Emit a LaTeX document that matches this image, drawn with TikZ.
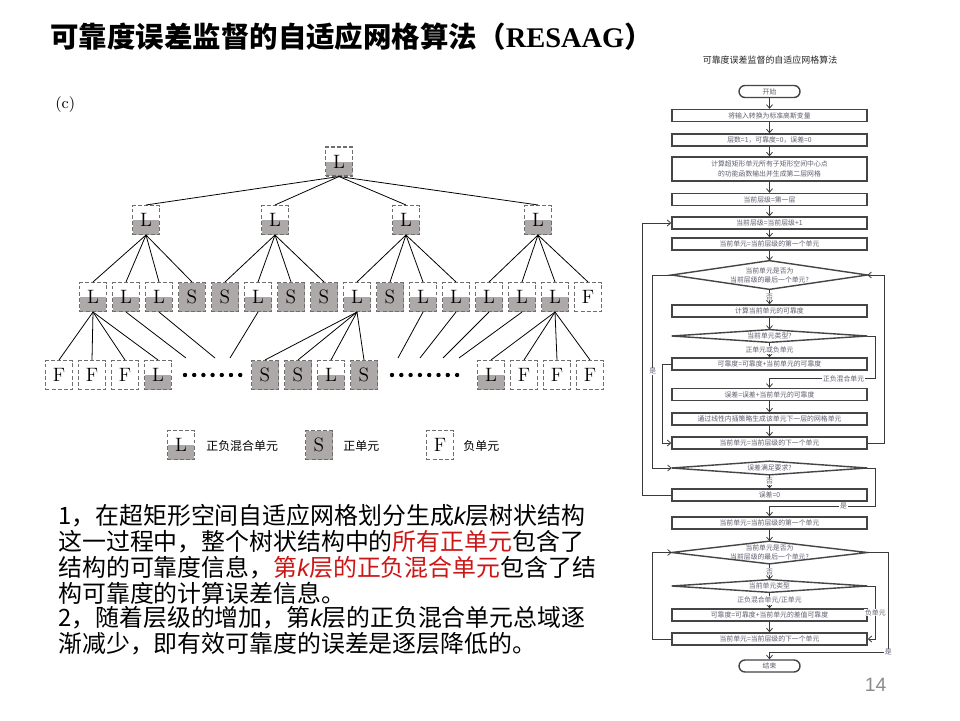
\documentclass[tikz,border=0pt]{standalone}
\usepackage{fontspec}
\newfontfamily\cjkfont{Noto Sans CJK SC}
\newfontfamily\titlelatin{Liberation Serif}
\newfontfamily\plainsans{Liberation Sans}
\usetikzlibrary{arrows.meta, calc}
\definecolor{cellgray}{HTML}{ADA9A9}
\definecolor{celledge}{HTML}{6E6E6E}
\definecolor{notered}{HTML}{CC1616}
\definecolor{flowedge}{HTML}{454545}
\definecolor{flowline}{HTML}{3A3A3A}
\definecolor{flowtext}{HTML}{5E5E70}
\definecolor{pagegray}{HTML}{8C8C8C}
\newcommand{\kvar}{{\plainsans\itshape k}}
\tikzset{
    my-cell/.style={
        draw=celledge, dash pattern=on 2.2pt off 1.3pt, line width=0.6pt,
        minimum width=0.54cm, minimum height=0.58cm, inner sep=0pt,
        font=\fontsize{11}{13}\selectfont
    },
    my-mixed-cell/.style={
        my-cell, path picture={\fill[cellgray] (path picture bounding box.west) rectangle (path picture bounding box.south east);}
    },
    my-pos-cell/.style={
        my-cell, fill=cellgray
    },
    my-neg-cell/.style={
        my-cell
    },
    my-tree-edge/.style={
        draw=black, line width=0.45pt
    },
    my-key-text/.style={
        anchor=west, inner sep=0pt, font=\cjkfont\fontsize{6.8}{8}\selectfont
    },
    my-note/.style={
        anchor=west, inner sep=0pt, font=\cjkfont\fontsize{13.6}{15}\selectfont
    },
    my-flow-box/.style={
        draw=flowedge, line width=0.8pt, minimum width=3.9cm, minimum height=0.24cm,
        inner sep=0pt, align=center, text=flowtext, font=\cjkfont\fontsize{3.9}{5.4}\selectfont
    },
    my-flow-term/.style={
        my-flow-box, rounded corners=0.12cm, minimum width=1.22cm
    },
    my-flow-choice/.style={
        minimum width=3.9cm, minimum height=0.24cm, inner sep=0pt, align=center,
        text=flowtext, font=\cjkfont\fontsize{3.9}{5.2}\selectfont
    },
    my-flow-shape/.style={
        draw=flowedge, line width=0.8pt
    },
    my-flow-line/.style={
        draw=flowline, line width=0.45pt
    },
    my-flow-arrow/.style={
        my-flow-line, -{Straight Barb[length=2pt, width=3.4pt]}
    },
    my-flow-label/.style={
        fill=white, inner sep=0.4pt, text=flowtext, font=\cjkfont\fontsize{3.9}{5}\selectfont
    },
}

\begin{document}
\begin{tikzpicture}[x=0.02cm, y=-0.02cm]

        % PAGE ---------------------------------------------------------------------------------------
        \fill[white] (0, 0) rectangle (960, 720);
        \useasboundingbox (0, 0) rectangle (960, 720);

        % TITLE AND PAGE NUMBER
        \node[anchor=west, inner sep=0pt, font=\cjkfont\bfseries\fontsize{16.2}{18}\selectfont] (TITLE) at (50, 37)
            {可靠度误差监督的自适应网格算法（{\titlelatin\bfseries RESAAG}）};
        \node[font=\plainsans\fontsize{11}{13}\selectfont, text=pagegray] (PAGENUM) at (875.5, 685) {14};
        \node[anchor=west, inner sep=0pt, font=\fontsize{9}{11}\selectfont] (PANEL) at (55, 105) {(c)};

        % TREE - ROOT AND FIRST LEVEL ----------------------------------------------------------------
        \node[my-mixed-cell] (ROOT) at (339, 161.5)          {L};
        \node[my-mixed-cell] (LV1A) at (146, 220)            {L};
        \node[my-mixed-cell] (LV1B) at ($(LV1A) + (129, 0)$) {L};
        \node[my-mixed-cell] (LV1C) at ($(LV1A) + (260, 0)$) {L};
        \node[my-mixed-cell] (LV1D) at ($(LV1A) + (392, 0)$) {L};

        % TREE - SECOND LEVEL
        \node[my-mixed-cell] (LV2A) at (93, 297)            {L};
        \node[my-mixed-cell] (LV2B) at ($(LV2A) + (33, 0)$) {L};
        \node[my-mixed-cell] (LV2C) at ($(LV2B) + (33, 0)$) {L};
        \node[my-pos-cell]   (LV2D) at ($(LV2C) + (33, 0)$) {S};
        \node[my-pos-cell]   (LV2E) at ($(LV2D) + (33, 0)$) {S};
        \node[my-mixed-cell] (LV2F) at ($(LV2E) + (33, 0)$) {L};
        \node[my-pos-cell]   (LV2G) at ($(LV2F) + (33, 0)$) {S};
        \node[my-pos-cell]   (LV2H) at ($(LV2G) + (33, 0)$) {S};
        \node[my-mixed-cell] (LV2I) at ($(LV2H) + (33, 0)$) {L};
        \node[my-pos-cell]   (LV2J) at ($(LV2I) + (33, 0)$) {S};
        \node[my-mixed-cell] (LV2K) at ($(LV2J) + (33, 0)$) {L};
        \node[my-mixed-cell] (LV2L) at ($(LV2K) + (33, 0)$) {L};
        \node[my-mixed-cell] (LV2M) at ($(LV2L) + (33, 0)$) {L};
        \node[my-mixed-cell] (LV2N) at ($(LV2M) + (33, 0)$) {L};
        \node[my-mixed-cell] (LV2O) at ($(LV2N) + (33, 0)$) {L};
        \node[my-neg-cell]   (LV2P) at ($(LV2O) + (33, 0)$) {F};

        % TREE - THIRD LEVEL
        \node[my-neg-cell]   (LV3A) at (59, 375)            {F};
        \node[my-neg-cell]   (LV3B) at ($(LV3A) + (33, 0)$) {F};
        \node[my-neg-cell]   (LV3C) at ($(LV3B) + (33, 0)$) {F};
        \node[my-mixed-cell] (LV3D) at ($(LV3C) + (33, 0)$) {L};
        \node[my-pos-cell]   (LV3E) at (265, 375)           {S};
        \node[my-pos-cell]   (LV3F) at ($(LV3E) + (33, 0)$) {S};
        \node[my-mixed-cell] (LV3G) at ($(LV3F) + (33, 0)$) {L};
        \node[my-pos-cell]   (LV3H) at ($(LV3G) + (33, 0)$) {S};
        \node[my-mixed-cell] (LV3I) at (491, 375)           {L};
        \node[my-neg-cell]   (LV3J) at ($(LV3I) + (33, 0)$) {F};
        \node[my-neg-cell]   (LV3K) at ($(LV3J) + (33, 0)$) {F};
        \node[my-neg-cell]   (LV3L) at ($(LV3K) + (33, 0)$) {F};

        % DOTS FOR THE CELLS LEFT OUT
        \foreach \k in {0,...,6} \fill ($(LV3D) + (27 + 9.2*\k, 0)$) circle (0.044cm);
        \foreach \k in {0,...,7} \fill ($(LV3H) + (28 + 9.3*\k, 0)$) circle (0.044cm);

        % FREE ENDS OF THE BRANCHES INTO THE DOTS
        \coordinate (LV2BEND) at (186, 358);
        \coordinate (LV2CEND) at (215, 358);
        \coordinate (LV2FEND) at (230, 358);
        \coordinate (LV2KEND) at (398, 358);
        \coordinate (LV2LEND) at (420, 358);
        \coordinate (LV2MEND) at (443, 358);
        \coordinate (LV2NEND) at (459, 358);

        % TREE BRANCHES - ROOT TO FIRST LEVEL
        \draw[my-tree-edge] (ROOT.south) -- (LV1A.north);
        \draw[my-tree-edge] (ROOT.south) -- (LV1B.north);
        \draw[my-tree-edge] (ROOT.south) -- (LV1C.north);
        \draw[my-tree-edge] (ROOT.south) -- (LV1D.north);

        % TREE BRANCHES - FIRST TO SECOND LEVEL
        \draw[my-tree-edge] (LV1A.south) -- (LV2A.north);
        \draw[my-tree-edge] (LV1A.south) -- (LV2B.north);
        \draw[my-tree-edge] (LV1A.south) -- (LV2C.north);
        \draw[my-tree-edge] (LV1A.south) -- (LV2D.north);
        \draw[my-tree-edge] (LV1B.south) -- (LV2E.north);
        \draw[my-tree-edge] (LV1B.south) -- (LV2F.north);
        \draw[my-tree-edge] (LV1B.south) -- (LV2G.north);
        \draw[my-tree-edge] (LV1B.south) -- (LV2H.north);
        \draw[my-tree-edge] (LV1C.south) -- (LV2I.north);
        \draw[my-tree-edge] (LV1C.south) -- (LV2J.north);
        \draw[my-tree-edge] (LV1C.south) -- (LV2K.north);
        \draw[my-tree-edge] (LV1C.south) -- (LV2L.north);
        \draw[my-tree-edge] (LV1D.south) -- (LV2M.north);
        \draw[my-tree-edge] (LV1D.south) -- (LV2N.north);
        \draw[my-tree-edge] (LV1D.south) -- (LV2O.north);
        \draw[my-tree-edge] (LV1D.south) -- (LV2P.north);

        % TREE BRANCHES - SECOND TO THIRD LEVEL
        \draw[my-tree-edge] (LV2A.south) -- (LV3A.north);
        \draw[my-tree-edge] (LV2A.south) -- (LV3B.north);
        \draw[my-tree-edge] (LV2A.south) -- (LV3C.north);
        \draw[my-tree-edge] (LV2A.south) -- (LV3D.north);
        \draw[my-tree-edge] (LV2I.south) -- (LV3E.north);
        \draw[my-tree-edge] (LV2I.south) -- (LV3F.north);
        \draw[my-tree-edge] (LV2I.south) -- (LV3G.north);
        \draw[my-tree-edge] (LV2I.south) -- (LV3H.north);
        \draw[my-tree-edge] (LV2O.south) -- (LV3I.north);
        \draw[my-tree-edge] (LV2O.south) -- (LV3J.north);
        \draw[my-tree-edge] (LV2O.south) -- (LV3K.north);
        \draw[my-tree-edge] (LV2O.south) -- (LV3L.north);
        \draw[my-tree-edge] (LV2B.south) -- (LV2BEND);
        \draw[my-tree-edge] (LV2C.south) -- (LV2CEND);
        \draw[my-tree-edge] (LV2F.south) -- (LV2FEND);
        \draw[my-tree-edge] (LV2K.south) -- (LV2KEND);
        \draw[my-tree-edge] (LV2L.south) -- (LV2LEND);
        \draw[my-tree-edge] (LV2M.south) -- (LV2MEND);
        \draw[my-tree-edge] (LV2N.south) -- (LV2NEND);

        % LEGEND
        \node[my-mixed-cell] (KEYL)     at (181, 445)          {L};
        \node[my-key-text]   (KEYLTEXT) at ($(KEYL) + (25, 1)$) {正负混合单元};
        \node[my-pos-cell]   (KEYS)     at (319, 445)          {S};
        \node[my-key-text]   (KEYSTEXT) at ($(KEYS) + (24, 1)$) {正单元};
        \node[my-neg-cell]   (KEYF)     at (440, 445)          {F};
        \node[my-key-text]   (KEYFTEXT) at ($(KEYF) + (23, 1)$) {负单元};

        % NOTES UNDER THE TREE -----------------------------------------------------------------------
        \node[my-note] (NOTE1) at (58, 516)   {1，在超矩形空间自适应网格划分生成\kvar 层树状结构};
        \node[my-note] (NOTE2) at (58, 542)   {这一过程中，整个树状结构中的\textcolor{notered}{所有正单元}包含了};
        \node[my-note] (NOTE3) at (58, 567.5) {结构的可靠度信息，\textcolor{notered}{第\kvar 层的正负混合单元}包含了结};
        \node[my-note] (NOTE4) at (58, 593)   {构可靠度的计算误差信息。};
        \node[my-note] (NOTE5) at (58, 618)   {2，随着层级的增加，第\kvar 层的正负混合单元总域逐};
        \node[my-note] (NOTE6) at (58, 643.5) {渐减少，即有效可靠度的误差是逐层降低的。};

        % FLOWCHART ----------------------------------------------------------------------------------
        \node[text=black!85, font=\cjkfont\fontsize{5.1}{6}\selectfont] (FLOWTITLE) at (770, 60) {可靠度误差监督的自适应网格算法};

        % FIRST PASS - BOXES AND CHOICES
        \node[my-flow-term]   (FSTART) at (769.5, 91.5)                      {开始};
        \node[my-flow-box]    (F1)     at (769.5, 115.5)                     {将输入转换为标准高斯变量};
        \node[my-flow-box]    (F2)     at (769.5, 140)                       {层数=1，可靠度=0，误差=0};
        \node[my-flow-box, minimum height=0.48cm] (F3) at (769.5, 169)       {计算超矩形单元所有子矩形空间中心点\\的功能函数输出并生成第二层网格};
        \node[my-flow-box]    (F4)     at (769.5, 199.5)                     {当前层级=第一层};
        \node[my-flow-box]    (F5)     at (769.5, 223)                       {当前层级=当前层级+1};
        \node[my-flow-box]    (F6)     at (769.5, 244)                       {当前单元=当前层级的第一个单元};
        \node[my-flow-choice, minimum height=0.56cm] (D1) at (769.5, 275)    {当前单元是否为\\当前层级的最后一个单元?};
        \node[my-flow-box]    (F7)     at (769.5, 311)                       {计算当前单元的可靠度};
        \node[my-flow-choice] (D2)     at (769.5, 336)                       {当前单元类型?};
        \node[my-flow-box]    (F8)     at (769.5, 364)                       {可靠度=可靠度+当前单元的可靠度};
        \node[my-flow-box]    (F9)     at (769.5, 394.5)                     {误差=误差+当前单元的可靠度};
        \node[my-flow-box]    (F10)    at (769.5, 419)                       {通过线性内插策略生成该单元下一层的网格单元};
        \node[my-flow-box]    (F11)    at (769.5, 443)                       {当前单元=当前层级的下一个单元};
        \node[my-flow-choice, minimum height=0.26cm] (D3) at (769.5, 468)    {误差满足要求?};
        \node[my-flow-box]    (F12)    at (769.5, 495)                       {误差=0};

        % SECOND PASS - BOXES AND CHOICES
        \node[my-flow-box]    (F13)    at (769.5, 523)                       {当前单元=当前层级的第一个单元};
        \node[my-flow-choice, minimum height=0.44cm] (D4) at (769.5, 552.5)  {当前单元是否为\\当前层级的最后一个单元?};
        \node[my-flow-choice] (D5)     at (769.5, 586)                       {当前单元类型};
        \node[my-flow-box]    (F14)    at (769.5, 615)                       {可靠度=可靠度+当前单元的差值可靠度};
        \node[my-flow-box]    (F15)    at (769.5, 639)                       {当前单元=当前层级的下一个单元};
        \node[my-flow-term]   (FEND)   at (769.5, 666)                       {结束};

        % DIAMOND OUTLINES
        \draw[my-flow-shape] (D1.west) -- (D1.north) -- (D1.east) -- (D1.south) -- cycle;
        \draw[my-flow-shape] (D2.west) -- (D2.north) -- (D2.east) -- (D2.south) -- cycle;
        \draw[my-flow-shape] (D3.west) -- (D3.north) -- (D3.east) -- (D3.south) -- cycle;
        \draw[my-flow-shape] (D4.west) -- (D4.north) -- (D4.east) -- (D4.south) -- cycle;
        \draw[my-flow-shape] (D5.west) -- (D5.north) -- (D5.east) -- (D5.south) -- cycle;

        % STRAIGHT ARROWS
        \draw[my-flow-arrow] (FSTART) -- (F1);
        \draw[my-flow-arrow] (F1)  -- (F2);
        \draw[my-flow-arrow] (F2)  -- (F3);
        \draw[my-flow-arrow] (F3)  -- (F4);
        \draw[my-flow-arrow] (F4)  -- (F5);
        \draw[my-flow-arrow] (F5)  -- (F6);
        \draw[my-flow-arrow] (F6)  -- (D1);
        \draw[my-flow-arrow] (D1)  -- node[my-flow-label] {否} (F7);
        \draw[my-flow-arrow] (F7)  -- (D2);
        \draw[my-flow-arrow] (D2)  -- node[my-flow-label] {正单元或负单元} (F8);
        \draw[my-flow-arrow] (F9)  -- (F10);
        \draw[my-flow-arrow] (F10) -- (F11);
        \draw[my-flow-arrow] (D3)  -- node[my-flow-label] {否} (F12);
        \draw[my-flow-arrow] (F13) -- (D4);
        \draw[my-flow-arrow] (D4)  -- node[my-flow-label] {否} (D5);
        \draw[my-flow-arrow] (D5)  -- node[my-flow-label] {正负混合单元/正单元} (F14);
        \draw[my-flow-arrow] (F14) -- (F15);

        % LOOPS ON THE LEFT
        \draw[my-flow-arrow] (F12.west) -- ++(-29, 0) |- (F5.west);
        \draw[my-flow-arrow] (D1.west)  -- ++(-19, 0) |- node[my-flow-label, pos=0.25] {是} (D3.west);
        \draw[my-flow-arrow] (F8.west)  -- ++(-9, 0)  |- (F11.west);
        \draw[my-flow-arrow] (F15.west) -- ++(-19, 0) |- (D4.west);

        % LOOPS ON THE RIGHT
        \draw[my-flow-arrow] (F11.east) -- ++(17, 0) |- (D1.east);
        \draw[my-flow-arrow] (D2.east)  -- ++(8, 0)  |- node[my-flow-label, pos=0.65] {正负混合单元} ($(F9.north) + (0, -9)$) -- (F9.north);
        \draw[my-flow-arrow] (D3.east)  -- ++(8, 0)  |- node[my-flow-label, pos=0.65] {是} ($(F13.north) + (0, -10)$) -- (F13.north);
        \draw[my-flow-arrow] (D5.east)  -- ++(8, 0)  |- node[my-flow-label, pos=0.25] {负单元} (F15.east);
        \draw[my-flow-arrow] (D4.east)  -- ++(21, 0) |- node[my-flow-label, pos=0.5] {是} ($(FEND.north) + (0, -7)$) -- (FEND.north);

\end{tikzpicture}
\end{document}
